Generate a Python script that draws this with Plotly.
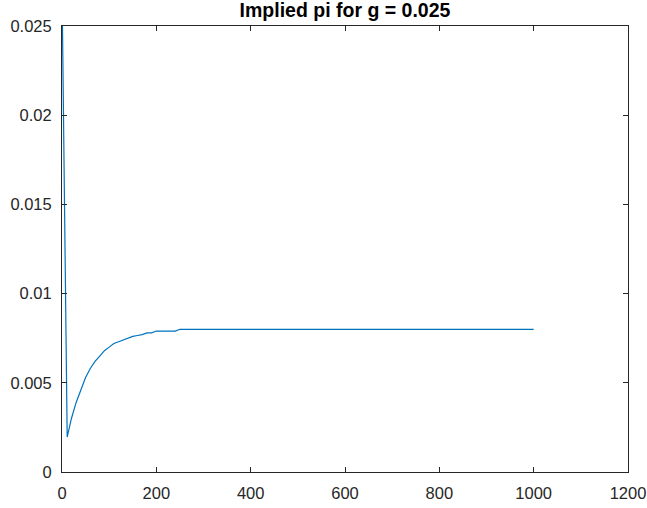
import plotly.graph_objects as go

x_vals = [1, 11, 20, 30, 40, 50, 60, 70, 80, 90, 100, 110, 120, 130, 140, 150,
          160, 170, 180, 190, 200, 210, 220, 230, 240, 250, 1000]
y_vals = [0.025, 0.00196, 0.0030, 0.0039, 0.0046, 0.0053, 0.0058, 0.0062, 0.0065,
          0.0068, 0.0070, 0.0072, 0.0073, 0.0074, 0.0075, 0.0076, 0.00765, 0.0077,
          0.0078, 0.0078, 0.0079, 0.0079, 0.0079, 0.0079, 0.0079, 0.0080, 0.0080]

x_ticks = [0, 200, 400, 600, 800, 1000, 1200]
y_ticks = [0, 0.005, 0.01, 0.015, 0.02, 0.025]
y_tick_text = ["0", "0.005", "0.01", "0.015", "0.02", "0.025"]
title_text = "Implied pi for g = 0.025"

axis_color = "#262626"
font_family = "Liberation Sans, Arial, sans-serif"

fig = go.Figure()
fig.add_trace(go.Scatter(x=x_vals, y=y_vals, mode="lines",
                         line=dict(color="#0072BD", width=1.2),
                         showlegend=False))

fig.update_layout(
    width=647, height=508,
    margin=dict(l=62, r=19, t=26, b=36),
    paper_bgcolor="white", plot_bgcolor="white",
    title=dict(text="<b>" + title_text + "</b>", x=(62 + 628) / 2 / 647, xanchor="center",
               xref="paper", yref="container",
               y=1 - 10.5 / 508, yanchor="middle",
               font=dict(family=font_family, size=19.5, color="black")),
    font=dict(family=font_family, size=16.5, color=axis_color),
)
fig.update_layout(title_xref="container")
fig.update_xaxes(range=[0, 1200], tickvals=x_ticks, ticks="inside", ticklen=5,
                 tickcolor=axis_color, showline=True, linecolor=axis_color, linewidth=1,
                 mirror="ticks", showgrid=False, zeroline=False, automargin=False,
                 ticklabelstandoff=6,
                 tickfont=dict(size=16.5, color=axis_color))
fig.update_yaxes(range=[0, 0.025], tickvals=y_ticks, ticktext=y_tick_text,
                 ticks="inside", ticklen=5, tickcolor=axis_color, showline=True,
                 linecolor=axis_color, linewidth=1, mirror="ticks", showgrid=False,
                 zeroline=False, automargin=False, ticklabelstandoff=6,
                 tickfont=dict(size=16.5, color=axis_color))

fig.write_html("out.html")
